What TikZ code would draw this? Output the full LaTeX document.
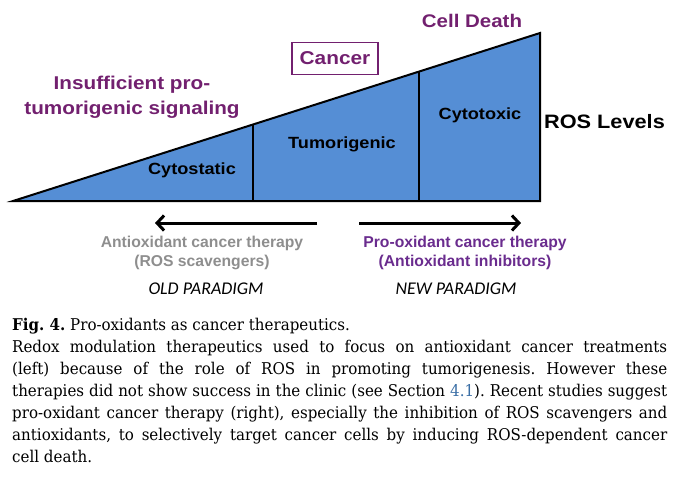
\documentclass[tikz,border=0pt]{standalone}
\usepackage{fontspec}
\setmainfont{Liberation Sans}
\newfontfamily\wide[FakeStretch=1.12]{Liberation Sans}
\newfontfamily\parfont{Carlito}
\newfontfamily\capfont[FakeStretch=0.93]{DejaVu Serif}
\usetikzlibrary{arrows.meta}
\definecolor{triblue}{HTML}{558ED5}
\definecolor{magpurple}{HTML}{72206F}
\definecolor{violet}{HTML}{6A2C8E}
\definecolor{txtgray}{HTML}{8E8E8E}
\definecolor{linkblue}{HTML}{3A6EA5}
\tikzset{
  big/.style={font=\wide\fontsize{18.3}{20}\selectfont\bfseries, inner sep=0pt},
  zone/.style={font=\wide\fontsize{16.2}{18}\selectfont\bfseries, inner sep=0pt},
  ther/.style={font=\fontsize{15.7}{19}\selectfont\bfseries, inner sep=0pt, align=center},
  para/.style={font=\parfont\fontsize{17.9}{18}\selectfont\itshape, inner sep=0pt},
  arr/.style={line width=3pt, -{Straight Barb[length=7pt,width=15pt,line width=3pt]}}
}
\begin{document}
\begin{tikzpicture}[x=1pt,y=-1pt]
\useasboundingbox (0,0) rectangle (689,480);
% triangle
\coordinate (A) at (13,201);
\coordinate (B) at (540,201);
\coordinate (C) at (540,33);
\fill[triblue] (A) -- (B) -- (C) -- cycle;
\coordinate (d1b) at (253,201);
\coordinate (d1t) at (253,124.5);
\coordinate (d2b) at (419,201);
\coordinate (d2t) at (419,71.3);
\draw[line width=1.3pt] (d1b) -- (d1t);
\draw[line width=1.3pt] (d2b) -- (d2t);
\draw[line width=2pt, line join=miter] (A) -- (B) -- (C) -- cycle;
% labels
\node[big, text=magpurple] (death) at (472,21) {Cell Death};
\node[big, text=magpurple, draw=magpurple, line width=1.3pt, minimum width=86pt, minimum height=32pt, font=\wide\fontsize{18.6}{20}\selectfont\bfseries] (cancer) at (335,58.5) {Cancer};
\node[big, text=magpurple, align=center, font=\wide\fontsize{18.5}{25}\selectfont\bfseries] (insuf) at (132,97.5) {Insufficient pro-\\tumorigenic signaling};
\node[zone] (cyst) at (192,170) {Cytostatic};
\node[zone] (tumo) at (342,144) {Tumorigenic};
\node[zone] (cyto) at (480,115) {Cytotoxic};
\node[big, font=\wide\fontsize{19.4}{20}\selectfont\bfseries] (ros) at (604.5,122) {ROS Levels};
% arrows
\coordinate (la) at (317,223);
\coordinate (lb) at (155,223);
\coordinate (ra) at (359,223);
\coordinate (rb) at (521,223);
\draw[arr] (la) -- (lb);
\draw[arr] (ra) -- (rb);
\node[ther, text=txtgray] (anti) at (202,252.5) {Antioxidant cancer therapy\\(ROS scavengers)};
\node[ther, text=violet] (pro) at (465,252.5) {Pro-oxidant cancer therapy\\(Antioxidant inhibitors)};
\node[para] (old) at (206,289) {OLD PARADIGM};
\node[para] (new) at (456,289) {NEW PARADIGM};
% caption
\node[anchor=north west, inner sep=0pt, text width=655pt, align=justify,
      font=\capfont\fontsize{16.2}{22}\selectfont\frenchspacing] (cap) at (12,318) {%
\textbf{Fig. 4.} Pro-oxidants as cancer therapeutics.\\
Redox modulation therapeutics used to focus on antioxidant cancer treatments\linebreak
(left) because of the role of ROS in promoting tumorigenesis. However these\linebreak
therapies did not show success in the clinic (see Section \textcolor{linkblue}{4.1}). Recent studies suggest\linebreak
pro-oxidant cancer therapy (right), especially the inhibition of ROS scavengers and\linebreak
antioxidants, to selectively target cancer cells by inducing ROS-dependent cancer\linebreak
cell death.};
\end{tikzpicture}
\end{document}
